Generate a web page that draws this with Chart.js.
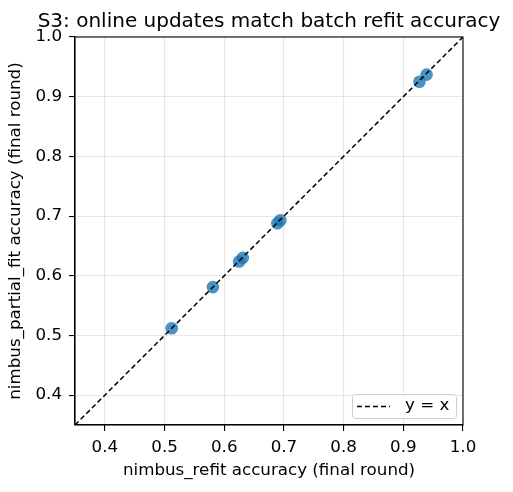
<!DOCTYPE html>
<html><head><meta charset="utf-8">
<script src="https://cdn.jsdelivr.net/npm/chart.js@4"></script>
<style>html,body{margin:0;padding:0;background:#fff}#wrap{width:513px;height:492px}</style>
</head><body><div id="wrap"><canvas id="c" width="513" height="492"></canvas></div>
<script>
const refitAcc   = [0.512, 0.581, 0.625, 0.631, 0.689, 0.694, 0.927, 0.939];
const partialAcc = [0.512, 0.581, 0.624, 0.630, 0.688, 0.693, 0.925, 0.937];
const tickValues = [0.4, 0.5, 0.6, 0.7, 0.8, 0.9, 1.0];
const identityLine = [0.35, 1.0];
const axisMin = 0.35, axisMax = 1.0;
const titleText = 'S3: online updates match batch refit accuracy';
const xLabel = 'nimbus_refit accuracy (final round)';
const yLabel = 'nimbus_partial_fit accuracy (final round)';
const legendLabel = 'y = x';

const FONT = 'DejaVu Sans';
const FS = 16.7;

const framePlugin = {
  id: 'frame',
  afterDraw(chart) {
    const {ctx, chartArea: a} = chart;
    ctx.save();
    ctx.strokeStyle = '#000';
    ctx.lineWidth = 1.1;
    ctx.strokeRect(a.left, a.top, a.right - a.left, a.bottom - a.top);
    // title
    ctx.fillStyle = '#000';
    ctx.font = '20px "' + FONT + '"';
    ctx.textAlign = 'center';
    ctx.textBaseline = 'alphabetic';
    ctx.fillText(titleText, (a.left + a.right) / 2, a.top - 10);
    // legend
    const bx = a.right - 111, by = a.bottom - 31, bw = 104, bh = 24;
    ctx.beginPath();
    if (ctx.roundRect) ctx.roundRect(bx + 0.5, by + 0.5, bw, bh, 3); else ctx.rect(bx + 0.5, by + 0.5, bw, bh);
    ctx.fillStyle = 'rgba(255,255,255,0.8)';
    ctx.fill();
    ctx.strokeStyle = '#cccccc';
    ctx.lineWidth = 1;
    ctx.stroke();
    ctx.beginPath();
    ctx.setLineDash([5, 3]);
    ctx.strokeStyle = '#000';
    ctx.lineWidth = 1.5;
    ctx.moveTo(bx + 5, by + 12.5);
    ctx.lineTo(bx + 38, by + 12.5);
    ctx.stroke();
    ctx.setLineDash([]);
    ctx.fillStyle = '#000';
    ctx.font = FS + 'px "' + FONT + '"';
    ctx.textAlign = 'left';
    ctx.textBaseline = 'middle';
    ctx.fillText(legendLabel, bx + 53, by + 12);
    ctx.restore();
  }
};

const points = refitAcc.map((x, i) => ({x: x, y: partialAcc[i]}));
const linePts = identityLine.map(v => ({x: v, y: v}));

new Chart(document.getElementById('c'), {
  type: 'scatter',
  data: {
    datasets: [
      {
        type: 'line',
        label: legendLabel,
        data: linePts,
        borderColor: '#000',
        borderWidth: 1.5,
        borderDash: [5, 3],
        pointRadius: 0,
        fill: false,
        order: 0
      },
      {
        label: 'runs',
        data: points,
        backgroundColor: 'rgba(31,119,180,0.8)',
        borderColor: 'rgba(31,119,180,0.8)',
        borderWidth: 0,
        pointRadius: 6.3,
        order: 1
      }
    ]
  },
  options: {
    responsive: false,
    devicePixelRatio: 1,
    animation: false,
    layout: {padding: {left: 0, right: 50, top: 37, bottom: 0}},
    plugins: {legend: {display: false}, tooltip: {enabled: false}, title: {display: false}},
    scales: {
      x: {
        type: 'linear', min: axisMin, max: axisMax,
        afterBuildTicks: s => { s.ticks = tickValues.map(v => ({value: v})); },
        afterFit: s => { s.height = 67; },
        ticks: {color: '#000', font: {family: FONT, size: FS}, padding: 7, maxRotation: 0,
                callback: v => v.toFixed(1)},
        grid: {color: 'rgba(176,176,176,0.3)', lineWidth: 1.1, tickColor: '#000', tickLength: 6},
        border: {color: '#000', width: 1.1},
        title: {display: true, text: xLabel, color: '#000', font: {family: FONT, size: FS}, padding: {top: 4, bottom: 11}}
      },
      y: {
        type: 'linear', min: axisMin, max: axisMax,
        afterBuildTicks: s => { s.ticks = tickValues.map(v => ({value: v})); },
        afterFit: s => { s.width = 75; },
        ticks: {color: '#000', font: {family: FONT, size: FS}, padding: 7,
                callback: v => v.toFixed(1)},
        grid: {color: 'rgba(176,176,176,0.3)', lineWidth: 1.1, tickColor: '#000', tickLength: 6},
        border: {color: '#000', width: 1.1},
        title: {display: true, text: yLabel, color: '#000', font: {family: FONT, size: FS}, padding: {top: 6, bottom: 4}}
      }
    }
  },
  plugins: [framePlugin]
});
</script>
</body></html>
